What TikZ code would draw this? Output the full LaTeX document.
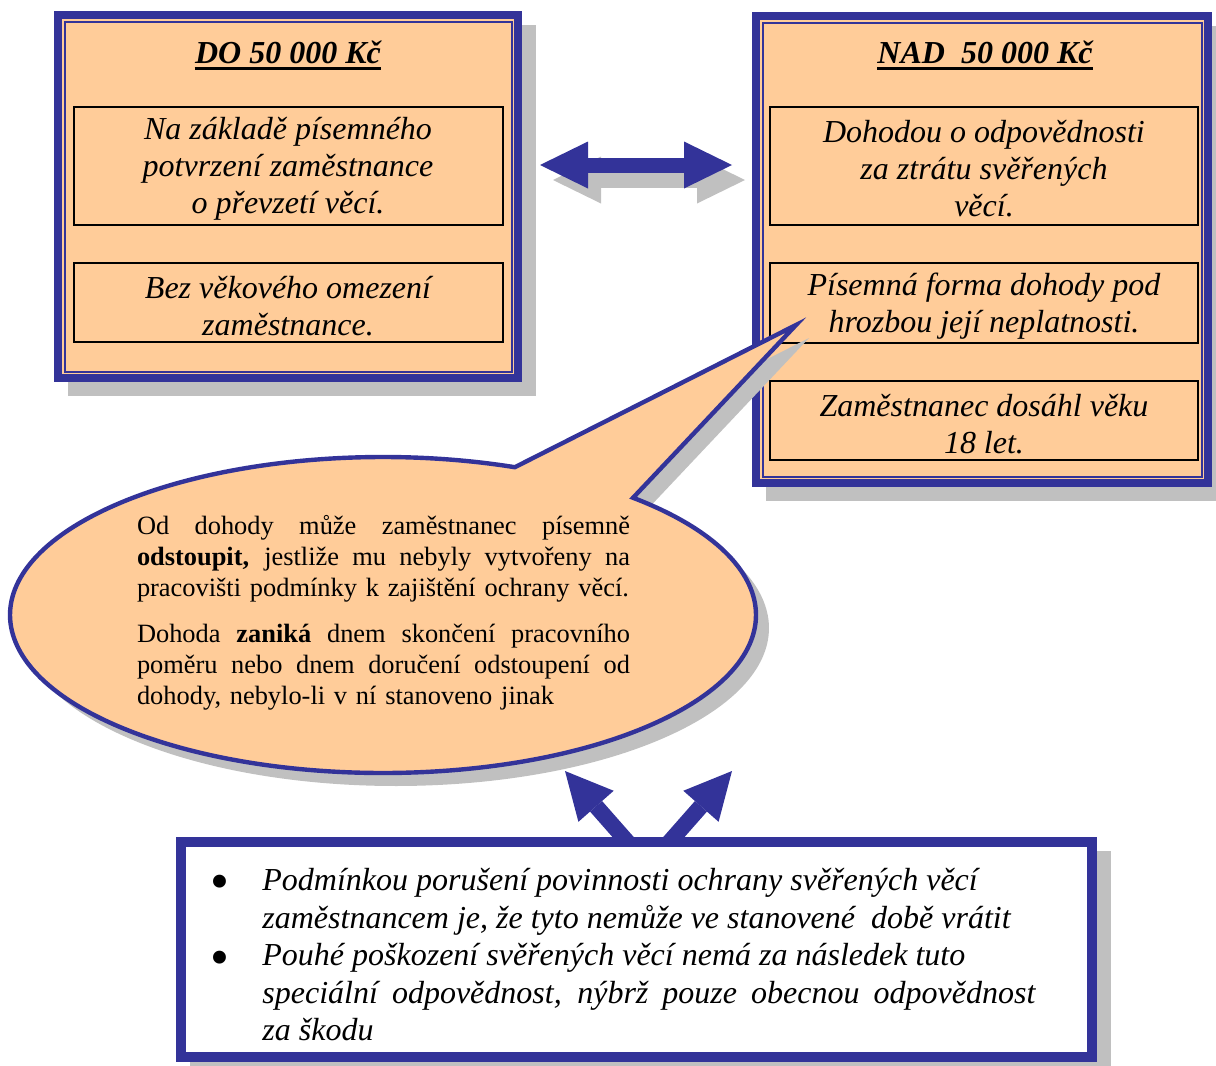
\documentclass[tikz,border=0pt]{standalone}
\usepackage{fontspec}
\setmainfont{Liberation Serif}
\usetikzlibrary{arrows.meta}
\definecolor{navy}{HTML}{333399}
\definecolor{peach}{HTML}{FFCC99}
\definecolor{shadowgray}{HTML}{C0C0C0}
\newcommand{\jline}[1]{\makebox[246.5pt][s]{\spaceskip=0pt\relax #1}}
\tikzset{
  bigframe/.style={fill=peach,draw=navy,line width=4pt},
  thinframe/.style={draw=navy,line width=1pt},
  itembox/.style={draw=black,fill=peach,line width=1pt},
  itemtext/.style={font=\fontsize{16}{18.5}\selectfont\itshape,align=center,inner sep=0pt},
  headtext/.style={font=\fontsize{16}{19}\selectfont\bfseries\itshape,inner sep=0pt},
  calltext/.style={font=\fontsize{13.2}{15.5}\selectfont,text width=246.5pt,align=left,inner sep=0pt},
  listtext/.style={font=\fontsize{16}{18.75}\selectfont\itshape,inner sep=0pt},
  bullet/.style={font=\fontsize{27}{27}\selectfont,inner sep=0pt},
  fatarrow/.style={line width=7.5pt,{Triangle[length=24pt,width=23.5pt,line width=0pt]}-{Triangle[length=24pt,width=23.5pt,line width=0pt]}},
  uparrow/.style={draw=navy,line width=8pt,-{Triangle[length=23.5pt,width=23.5pt,line width=0pt]}},
}
\begin{document}
\begin{tikzpicture}[x=0.5pt,y=-0.5pt]
  \useasboundingbox (0,0) rectangle (1216,1066);
  \fill[shadowgray] (68,25) rectangle (536,396);
  \fill[shadowgray] (766,26) rectangle (1226,501);
  \fill[shadowgray] (190,851) rectangle (1111,1076);
  % left frame
  \draw[bigframe] (58,15) rectangle (518,378);
  \draw[thinframe] (64.5,21.5) rectangle (511.5,371.5);
  \node[headtext] (lhead) at (288,52) {DO 50 000 Kč};
  \draw[line width=1.5pt] ([yshift=-2.5pt]lhead.south west) -- ([yshift=-2.5pt]lhead.south east);
  \draw[itembox] (74,107) rectangle (503,225);
  \node[itemtext] (l1) at (288,169) {Na základě písemného\\potvrzení zaměstnance\\o převzetí věcí.};
  \draw[itembox] (74,263) rectangle (503,342);
  \node[itemtext] (l2) at (288,306) {Bez věkového omezení\\zaměstnance.};
  % right frame
  \draw[bigframe] (756,16) rectangle (1208,483);
  \draw[thinframe] (762.5,22.5) rectangle (1201.5,476.5);
  \node[headtext] (rhead) at (985,52) {NAD\ \ 50 000 Kč};
  \draw[line width=1.5pt] ([yshift=-2.5pt]rhead.south west) -- ([yshift=-2.5pt]rhead.south east);
  \draw[itembox] (770,107) rectangle (1198,225);
  \node[itemtext] (r1) at (984,169) {Dohodou o odpovědnosti\\za ztrátu svěřených\\věcí.};
  \draw[itembox] (770,263) rectangle (1198,343);
  \node[itemtext] (r2) at (984,306) {Písemná forma dohody pod\\hrozbou její neplatnosti.};
  \draw[itembox] (770,381) rectangle (1198,460);
  \node[itemtext] (r3) at (984,424) {Zaměstnanec dosáhl věku\\18 let.};
  % double arrow
  \coordinate (la) at (540,165);
  \coordinate (ra) at (732,165);
  \draw[fatarrow,shadowgray] ([shift={(13,15)}]la) -- ([shift={(13,15)}]ra);
  \draw[fatarrow,navy] (la) -- (ra);
  % callout
  \coordinate (cc) at (383,615);
  \coordinate (tip) at (796,325);
  \fill[shadowgray] ([shift={(13,13)}]cc) ++(-47.9:373 and 158)
    arc[start angle=-47.9,end angle=290.7,x radius=373,y radius=158]
    -- ([shift={(13,13)}]tip) -- cycle;
  \draw[fill=peach,draw=navy,line width=2.2pt] (cc) ++(-47.9:373 and 158)
    arc[start angle=-47.9,end angle=290.7,x radius=373,y radius=158]
    -- (tip) -- cycle;
  \node[calltext] (note) at (383.5,613) {%
    \jline{Od dohody může zaměstnanec písemně}\\
    \jline{\textbf{odstoupit,} jestliže mu nebyly vytvořeny na}\\
    pracovišti podmínky k zajištění ochrany věcí.\\[7.5pt]
    \jline{Dohoda \textbf{zaniká} dnem skončení pracovního}\\
    \jline{poměru nebo dnem doručení odstoupení od}\\
    dohody, nebylo-li v ní stanoveno jinak};
  % bottom
  \coordinate (bl) at (631,846);
  \coordinate (br) at (666,846);
  \coordinate (tl) at (565,771);
  \coordinate (tr) at (732,771);
  \draw[uparrow] (bl) -- (tl);
  \draw[uparrow] (br) -- (tr);
  \draw[draw=navy,fill=white,line width=5pt] (181,842) rectangle (1092,1057);
  \node[bullet] (b1) at (220,887) {\textbullet};
  \node[bullet] (b2) at (220,963) {\textbullet};
  \node[listtext,anchor=north west,align=left] (list) at (262,868) {%
    Podmínkou porušení povinnosti ochrany svěřených věcí\\
    zaměstnancem je, že tyto nemůže ve stanovené\ \ době vrátit\\
    Pouhé poškození svěřených věcí nemá za následek tuto\\
    \makebox[386.5pt][s]{speciální odpovědnost, nýbrž pouze obecnou odpovědnost}\\
    za škodu};
\end{tikzpicture}
\end{document}
